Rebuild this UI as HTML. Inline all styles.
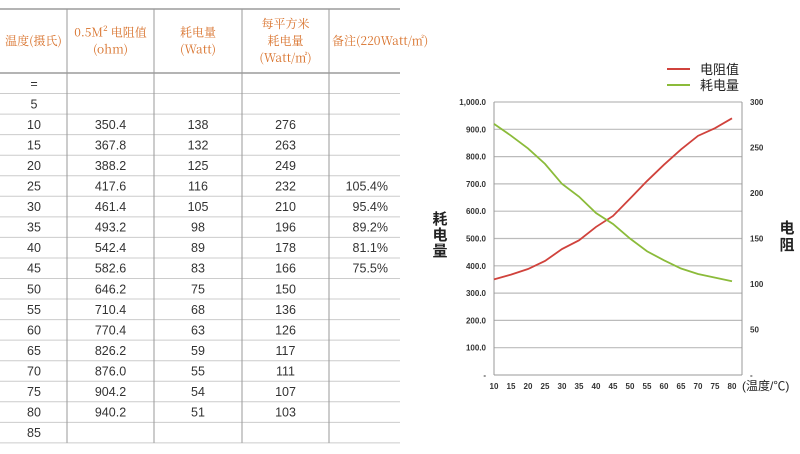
<!DOCTYPE html>
<html><head><meta charset="utf-8"><style>
body{margin:0;background:#fff;width:800px;height:449px;overflow:hidden;font-family:"Liberation Sans","Noto Sans CJK SC",sans-serif}
</style></head><body>
<svg id="s" width="800" height="449" xmlns="http://www.w3.org/2000/svg" font-family="Liberation Sans, Noto Sans CJK SC, sans-serif">
<g id="table"></g>
<g id="chart"></g>
</svg>
<script>
const temps=["=","5","10","15","20","25","30","35","40","45","50","55","60","65","70","75","80","85"];
const resist=[null,null,350.4,367.8,388.2,417.6,461.4,493.2,542.4,582.6,646.2,710.4,770.4,826.2,876.0,904.2,940.2,null];
const watts=[null,null,138,132,125,116,105,98,89,83,75,68,63,59,55,54,51,null];
const wattsSqm=[null,null,276,263,249,232,210,196,178,166,150,136,126,117,111,107,103,null];
const notes=["","","","","","105.4%","95.4%","89.2%","81.1%","75.5%","","","","","","","",""];
const xCats=[10,15,20,25,30,35,40,45,50,55,60,65,70,75,80];
const chartResist=[350.4,367.8,388.2,417.6,461.4,493.2,542.4,582.6,646.2,710.4,770.4,826.2,876.0,904.2,940.2];
const chartPower=[276,263,249,232,210,196,178,166,150,136,126,117,111,107,103];
const leftTicks=["-","100.0","200.0","300.0","400.0","500.0","600.0","700.0","800.0","900.0","1,000.0"];
const rightTicks=["-","50","100","150","200","250","300"];
const NS="http://www.w3.org/2000/svg";
function mk(p,tag,a,txt){const e=document.createElementNS(NS,tag);for(const k in a)e.setAttribute(k,a[k]);if(txt!=null)e.textContent=txt;p.appendChild(e);return e;}
// table
const T=document.getElementById('table');
const cols=[0,67,154,242,329,400];
const tTop=9,hb=73,rh=20.55;
let l=mk(T,'line',{x1:0,x2:400,y1:tTop,y2:tTop,stroke:'#888','stroke-width':1.2});


for(let i=0;i<=temps.length;i++){const y=hb+i*rh;const ln=mk(T,'line',{x1:0,x2:400,y1:y,y2:y,stroke:i==0?'#888':'#ccc','stroke-width':i==0?1.2:1});

}
for(let c=1;c<5;c++){const ln=mk(T,'line',{x1:cols[c],x2:cols[c],y1:tTop,y2:hb+temps.length*rh,stroke:'#999','stroke-width':1});

}
const hdr=[["温度(摄氏)"],["0.5M² 电阻值","(ohm)"],["耗电量","(Watt)"],["每平方米","耗电量","(Watt/㎡)"],["备注(220Watt/㎡)"]];
hdr.forEach((h,c)=>{const cx=(cols[c]+cols[c+1])/2;const y0=41-(h.length-1)*8.5;
h.forEach((t,j)=>{const e=mk(T,'text',{x:c==4?332:cx,y:y0+j*17+4,'text-anchor':c==4?'start':'middle','font-size':12,fill:'#d8712a','font-family':'Noto Serif CJK SC, Liberation Serif, serif'},t);

});});
const colData=[temps,resist.map(v=>v==null?"":v.toFixed(1)),watts.map(v=>v==null?"":v),wattsSqm.map(v=>v==null?"":v),notes];
colData.forEach((arr,c)=>arr.forEach((v,i)=>{const y=hb+i*rh+rh/2+4.5;
const x=c==0?34:c==4?388:(cols[c]+cols[c+1])/2;
const e=mk(T,'text',{x:x,y:y,'text-anchor':c==4?'end':'middle','font-size':12.5,fill:'#333'},String(v));

}));
// chart
const C=document.getElementById('chart');
const X0=494,XS=17,YB=375,YT=102;
const xS=v=>X0+(v-10)/5*XS;
const yL=v=>YB-(v/1000)*(YB-YT);
const yR=v=>YB-(v/300)*(YB-YT);
leftTicks.forEach((t,i)=>{const y=YB-i*(YB-YT)/10;
if(i>0){const g=mk(C,'line',{x1:X0,x2:742,y1:y,y2:y,stroke:'#bbb','stroke-width':1.2});

}
const e=mk(C,'text',{x:486,y:y+3,'text-anchor':'end','font-size':8,fill:'#333','font-weight':'bold'},t);

});
rightTicks.forEach((t,i)=>{const y=YB-i*(YB-YT)/6;
const e=mk(C,'text',{x:750,y:y+3,'font-size':8,fill:'#333','font-weight':'bold'},t);

});
let ax=mk(C,'line',{x1:X0,x2:X0,y1:YT,y2:YB,stroke:'#999'});


ax=mk(C,'line',{x1:742,x2:742,y1:YT,y2:YB,stroke:'#999'});


ax=mk(C,'line',{x1:X0,x2:742,y1:YB,y2:YB,stroke:'#999'});


xCats.forEach(v=>{const e=mk(C,'text',{x:xS(v),y:389,'text-anchor':'middle','font-size':8,fill:'#333','font-weight':'bold'},v);

});
let e=mk(C,'text',{x:742,y:390,'font-size':12,fill:'#222'},'(温度/℃)');


['耗','电','量'].forEach((t,i)=>{const a=mk(C,'text',{x:440,y:224+i*16,'text-anchor':'middle','font-size':15,fill:'#222','font-weight':'bold'},t);

});
['电','阻'].forEach((t,i)=>{const a=mk(C,'text',{x:787,y:233+i*17,'text-anchor':'middle','font-size':15,fill:'#222','font-weight':'bold'},t);

});
const pr=mk(C,'polyline',{points:xCats.map((v,i)=>xS(v)+','+yL(chartResist[i])).join(' '),fill:'none',stroke:'#d0423c','stroke-width':1.8});


const pp=mk(C,'polyline',{points:xCats.map((v,i)=>xS(v)+','+yR(chartPower[i])).join(' '),fill:'none',stroke:'#8bbb3a','stroke-width':1.8});


[['电阻值','#d0423c',69],['耗电量','#8bbb3a',85]].forEach(([t,c,y])=>{
const ln=mk(C,'line',{x1:667,x2:690,y1:y,y2:y,stroke:c,'stroke-width':2});


const tx=mk(C,'text',{x:700,y:y+5,'font-size':13,fill:'#222'},t);

});
</script>
</body></html>
